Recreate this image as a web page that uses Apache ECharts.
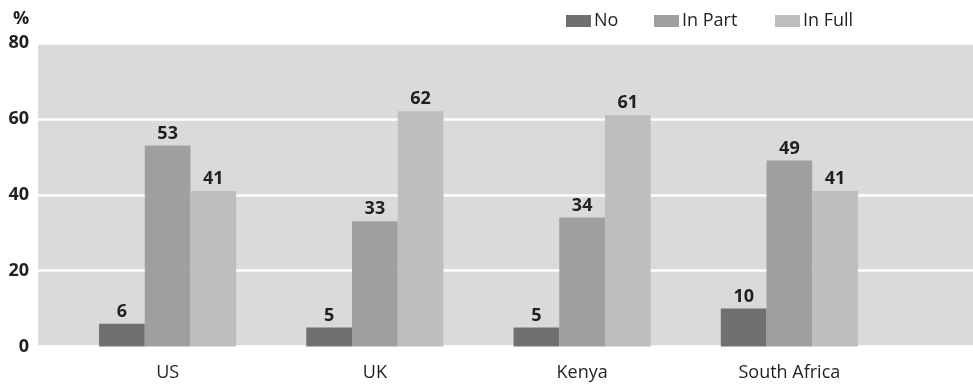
<!DOCTYPE html>
<html>
<head>
<meta charset="utf-8">
<script src="https://cdn.jsdelivr.net/npm/echarts@6/dist/echarts.min.js"></script>
<style>
  html, body { margin: 0; padding: 0; background: #fff; }
  #chart { width: 973px; height: 384px; }
</style>
</head>
<body>
<div id="chart"></div>
<script>
// Survey answers by country, percent of respondents
const countries = ['US', 'UK', 'Kenya', 'South Africa'];
const noValues = [6, 5, 5, 10];
const inPartValues = [53, 33, 34, 49];
const inFullValues = [41, 62, 61, 41];
const yTicks = [0, 20, 40, 60, 80];

const FONT = '"Open Sans", "Liberation Sans", sans-serif';
const TEXT = '#231f20';
const colors = { no: '#707072', part: '#9e9fa1', full: '#bdbec0' };

const chart = echarts.init(document.getElementById('chart'), null, { renderer: 'canvas' });

const valueLabel = {
  show: true,
  position: 'top',
  distance: 3,
  color: TEXT,
  fontFamily: FONT,
  fontWeight: 'bold',
  fontSize: 18
};

function barSeries(name, data, color) {
  return {
    name: name,
    type: 'bar',
    xAxisIndex: 1,
    yAxisIndex: 1,
    data: data,
    barWidth: 45.7,
    barGap: '0%',
    itemStyle: { color: color },
    label: valueLabel,
    emphasis: { disabled: true }
  };
}

function legendItem(name, left) {
  return {
    data: [name],
    left: left,
    top: 7,
    itemWidth: 25,
    itemHeight: 12,
    itemGap: 0,
    icon: 'rect',
    selectedMode: false,
    textStyle: { fontFamily: FONT, fontSize: 18, color: TEXT, padding: [0, 0, 0, -2] }
  };
}

chart.setOption({
  animation: false,
  title: {
    text: '%',
    left: 8,
    top: 5,
    textStyle: { fontFamily: FONT, fontWeight: 'bold', fontSize: 18, color: TEXT }
  },
  legend: [
    legendItem('No', 561),
    legendItem('In Part', 649),
    legendItem('In Full', 770)
  ],
  grid: [
    // shaded panel with the value scale
    { left: 38, right: 0, top: 43, bottom: 37.5, show: true, backgroundColor: '#d9dadc', borderWidth: 0 },
    // category bands holding the bars
    { left: 64, width: 829, top: 43, bottom: 37.5 }
  ],
  xAxis: [
    { gridIndex: 0, type: 'value', show: false, min: 0, max: 1 },
    {
      gridIndex: 1,
      type: 'category',
      data: countries,
      axisLine: { show: false },
      axisTick: { show: false },
      axisLabel: { margin: 17, fontFamily: FONT, fontSize: 18, color: TEXT }
    }
  ],
  yAxis: [
    {
      gridIndex: 0,
      type: 'value',
      min: yTicks[0],
      max: yTicks[yTicks.length - 1],
      interval: 20,
      axisLine: { show: false },
      axisTick: { show: false },
      splitLine: { show: true, lineStyle: { color: '#ffffff', width: 2.5 } },
      axisLabel: {
        margin: 9,
        fontFamily: FONT,
        fontWeight: 'bold',
        fontSize: 18,
        color: TEXT
      }
    },
    {
      gridIndex: 1,
      type: 'value',
      min: yTicks[0],
      max: yTicks[yTicks.length - 1],
      interval: 20,
      show: false
    }
  ],
  series: [
    barSeries('No', noValues, colors.no),
    barSeries('In Part', inPartValues, colors.part),
    barSeries('In Full', inFullValues, colors.full)
  ]
});
</script>
</body>
</html>
